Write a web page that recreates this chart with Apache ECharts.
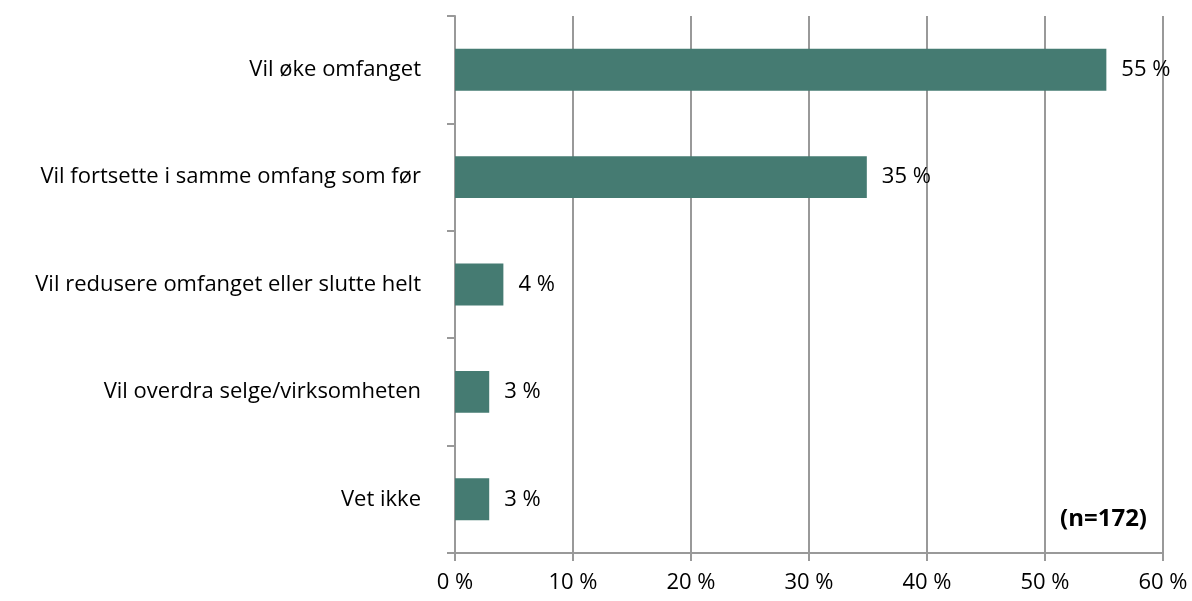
<!DOCTYPE html>
<html>
<head>
<meta charset="utf-8">
<script src="https://cdn.jsdelivr.net/npm/echarts@6/dist/echarts.min.js"></script>
<style>
html, body { margin: 0; padding: 0; background: #fff; }
#chart { width: 1192px; height: 601px; }
</style>
</head>
<body>
<div id="chart"></div>
<script>
// svar-kategorier og andeler (prosent)
var categories = [
    'Vil øke omfanget',
    'Vil fortsette i samme omfang som før',
    'Vil redusere omfanget eller slutte helt',
    'Vil overdra selge/virksomheten',
    'Vet ikke'
];
var shares = [55.2, 34.9, 4.1, 2.9, 2.9];
var note = '(n=172)';

var myChart = echarts.init(document.getElementById('chart'));
var font = 'Open Sans, Noto Sans, sans-serif';
var grey = '#999999';

var option = {
    animation: false,
    grid: { left: 455, right: 29, top: 16, bottom: 48 },
    xAxis: {
        type: 'value',
        min: 0,
        max: 60,
        interval: 10,
        axisLine: { show: true, lineStyle: { color: grey, width: 2 } },
        axisTick: { show: true, length: 8, lineStyle: { color: grey, width: 2 } },
        splitLine: { show: true, lineStyle: { color: grey, width: 2 } },
        axisLabel: {
            color: '#000',
            fontFamily: font,
            fontSize: 22,
            margin: 19,
            formatter: '{value} %'
        }
    },
    yAxis: {
        type: 'category',
        inverse: true,
        data: categories,
        axisLine: { show: true, lineStyle: { color: grey, width: 2 } },
        axisTick: { show: true, length: 8, lineStyle: { color: grey, width: 2 } },
        axisLabel: {
            color: '#000',
            fontFamily: font,
            fontSize: 22,
            margin: 34
        }
    },
    series: [
        {
            type: 'bar',
            data: shares,
            barWidth: '39%',
            itemStyle: { color: '#457B72' },
            label: {
                show: true,
                position: 'right',
                distance: 15,
                color: '#000',
                fontFamily: font,
                fontSize: 22,
                formatter: function (p) { return Math.round(p.value) + ' %'; }
            }
        }
    ],
    graphic: [
        {
            type: 'text',
            right: 45,
            top: 507,
            style: {
                text: note,
                fill: '#000',
                font: 'bold 24px Open Sans, Noto Sans, sans-serif'
            }
        }
    ]
};
myChart.setOption(option);
</script>
</body>
</html>
